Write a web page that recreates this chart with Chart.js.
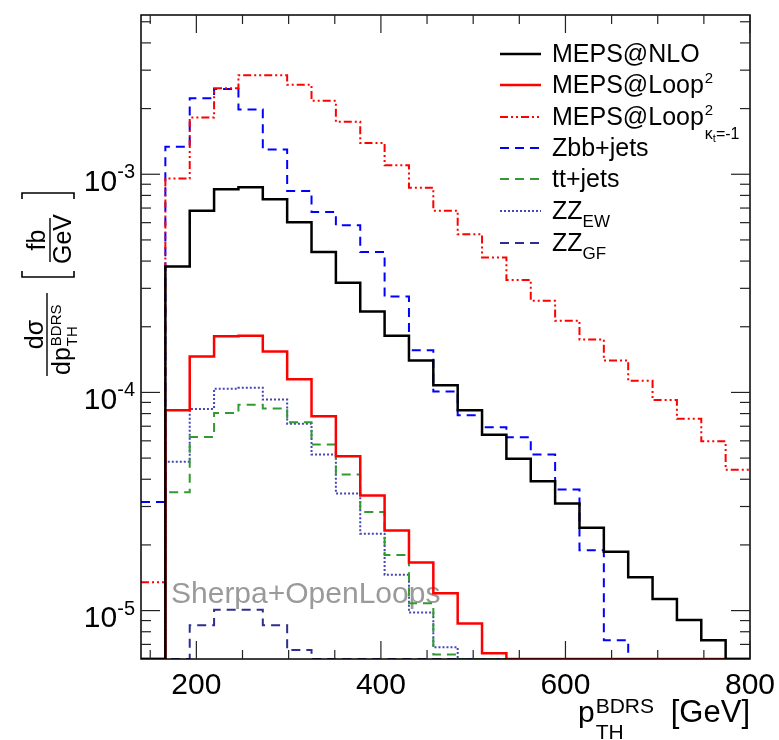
<!DOCTYPE html>
<html>
<head>
<meta charset="utf-8">
<script src="https://cdn.jsdelivr.net/npm/chart.js@4.4.1/dist/chart.umd.min.js"></script>
<style>
    html, body { margin: 0; padding: 0; background: #fff; }
    #wrap { position: relative; width: 779px; height: 740px; }
</style>
</head>
<body>
<div id="wrap"><canvas id="chart"></canvas></div>
<script>
// p_TH^BDRS bin edges [GeV]: 25 bins between 140 and 800
const binEdges = [140, 166.4, 192.8, 219.2, 245.6, 272, 298.4, 324.8, 351.2, 377.6, 404,
    430.4, 456.8, 483.2, 509.6, 536, 562.4, 588.8, 615.2, 641.6, 668, 694.4, 720.8, 747.2, 773.6, 800];

// dsigma/dp [fb/GeV], one value per bin (0 = empty bin)
const mepsNlo = [0, 3.78e-4, 6.81e-4, 8.54e-4, 8.72e-4, 7.68e-4, 6.03e-4, 4.40e-4, 3.18e-4, 2.35e-4,
    1.82e-4, 1.40e-4, 1.08e-4, 8.28e-5, 6.39e-5, 4.97e-5, 3.92e-5, 3.10e-5, 2.40e-5, 1.86e-5,
    1.42e-5, 1.13e-5, 9.06e-6, 7.31e-6, 0];
const mepsLoop2 = [0, 8.28e-5, 1.46e-4, 1.81e-4, 1.82e-4, 1.54e-4, 1.15e-4, 7.78e-5, 5.10e-5, 3.37e-5,
    2.33e-5, 1.66e-5, 1.20e-5, 8.72e-6, 6.38e-6, 0, 0, 0, 0, 0, 0, 0, 0, 0, 0];
const mepsLoop2KtM1 = [1.35e-5, 9.55e-4, 1.82e-3, 2.48e-3, 2.84e-3, 2.84e-3, 2.57e-3, 2.17e-3, 1.74e-3, 1.39e-3,
    1.10e-3, 8.68e-4, 6.81e-4, 5.31e-4, 4.15e-4, 3.28e-4, 2.63e-4, 2.13e-4, 1.75e-4, 1.40e-4,
    1.13e-4, 9.24e-5, 7.57e-5, 5.97e-5, 4.42e-5];
const zbbJets = [3.15e-5, 1.337e-3, 2.23e-3, 2.46e-3, 1.98e-3, 1.30e-3, 8.39e-4, 6.72e-4, 5.84e-4, 4.40e-4,
    2.75e-4, 1.56e-4, 1.01e-4, 7.85e-5, 6.92e-5, 6.23e-5, 5.19e-5, 3.59e-5, 1.89e-5, 7.31e-6,
    0, 0, 0, 0, 0];
const ttJets = [0, 3.49e-5, 6.25e-5, 8.05e-5, 8.79e-5, 8.43e-5, 7.30e-5, 5.77e-5, 4.20e-5, 2.83e-5,
    1.80e-5, 1.08e-5, 6.3e-6, 0, 0, 0, 0, 0, 0, 0, 0, 0, 0, 0, 0];
const zzEW = [0, 4.81e-5, 8.40e-5, 1.04e-4, 1.05e-4, 9.27e-5, 7.19e-5, 5.19e-5, 3.44e-5, 2.25e-5,
    1.46e-5, 9.8e-6, 6.8e-6, 0, 0, 0, 0, 0, 0, 0, 0, 0, 0, 0, 0];
const zzGF = [0, 0, 8.57e-6, 1.01e-5, 1.01e-5, 8.57e-6, 6.6e-6, 0, 0, 0,
    0, 0, 0, 0, 0, 0, 0, 0, 0, 0, 0, 0, 0, 0, 0];

const seriesNames = ['MEPS@NLO', 'MEPS@Loop2', 'MEPS@Loop2 kt=-1', 'Zbb+jets', 'tt+jets', 'ZZ_EW', 'ZZ_GF'];

// axes
const X_MIN = 140, X_MAX = 800;
const Y_MIN = 6.0e-6, Y_MAX = 5.37e-3;
const xTicks = [150, 200, 250, 300, 350, 400, 450, 500, 550, 600, 650, 700, 750, 800];
const xTickLabels = [200, 400, 600, 800];
const yDecades = [1e-5, 1e-4, 1e-3];
const yDecadeExps = ['-5', '-4', '-3'];

const FONT = '"Liberation Sans", Arial, Helvetica, sans-serif';

function histo(vals) {
    // points on every bin edge, held flat until the next edge; empty bins sit on the axis floor
    return binEdges.map((x, i) => {
        const v = vals[Math.min(i, vals.length - 1)];
        return { x, y: v > 0 ? v : Y_MIN };
    });
}

function txt(ctx, s, x, y, size, align = 'left', color = '#000') {
    ctx.font = `${size}px ${FONT}`;
    ctx.textAlign = align;
    ctx.fillStyle = color;
    ctx.fillText(s, x, y);
    return ctx.measureText(s).width;
}

function line(ctx, x0, y0, x1, y1) {
    ctx.beginPath();
    ctx.moveTo(x0, y0);
    ctx.lineTo(x1, y1);
    ctx.stroke();
}

function drawLegend(chart) {
    const ctx = chart.ctx;
    const rows = [54, 85, 117, 148, 179, 211, 243];
    const lx0 = 500, lx1 = 541, tx = 552;
    ctx.save();
    ctx.textBaseline = 'alphabetic';
    chart.data.datasets.forEach((ds, i) => {
        const y = rows[i];
        ctx.strokeStyle = ds.borderColor;
        ctx.lineWidth = ds.legendWidth;
        ctx.setLineDash(ds.borderDash || []);
        line(ctx, lx0, y, lx1, y);
        ctx.setLineDash([]);
        const b = y + 8;
        if (i === 1 || i === 2) {
            const w = txt(ctx, 'MEPS@Loop', tx, b, 25);
            txt(ctx, '2', tx + w + 1, b - 10, 15);
            if (i === 2) {
                let x = tx + w + 1;
                x += txt(ctx, 'κ', x, b + 14, 16);
                x += txt(ctx, 't', x, b + 17, 11);
                txt(ctx, '=-1', x, b + 14, 16);
            }
        } else if (i === 5 || i === 6) {
            const w = txt(ctx, 'ZZ', tx, b, 25);
            txt(ctx, i === 5 ? 'EW' : 'GF', tx + w, b + 8, 17);
        } else {
            txt(ctx, ds.label, tx, b, 25);
        }
    });
    ctx.restore();
}

function drawYTitle(ctx) {
    // rotated text: local (a, b) -> screen (X = b, Y = -a)
    ctx.save();
    ctx.rotate(-Math.PI / 2);
    ctx.textBaseline = 'alphabetic';
    ctx.strokeStyle = '#000';
    ctx.lineWidth = 1.4;
    // d sigma / dp
    line(ctx, -376, 47, -293, 47);
    txt(ctx, 'dσ', -334.5, 43, 25, 'center');
    const w = txt(ctx, 'dp', -375, 70, 25);
    txt(ctx, 'BDRS', -375 + w + 1, 61, 15);
    txt(ctx, 'TH', -375 + w + 1, 77, 15);
    // [ fb / GeV ]
    ctx.lineWidth = 1.6;
    ctx.beginPath();
    ctx.moveTo(-271, 22); ctx.lineTo(-277, 22); ctx.lineTo(-277, 74); ctx.lineTo(-271, 74);
    ctx.stroke();
    ctx.beginPath();
    ctx.moveTo(-199, 22); ctx.lineTo(-193, 22); ctx.lineTo(-193, 74); ctx.lineTo(-199, 74);
    ctx.stroke();
    ctx.lineWidth = 1.4;
    line(ctx, -262, 50, -218, 50);
    txt(ctx, 'fb', -240, 45, 25, 'center');
    txt(ctx, 'GeV', -239, 71, 25, 'center');
    ctx.restore();
}

const rootFrame = {
    id: 'rootFrame',
    beforeDatasetsDraw(chart) {
        const ctx = chart.ctx;
        ctx.save();
        ctx.textBaseline = 'alphabetic';
        txt(ctx, 'Sherpa+OpenLoops', 171, 603, 30, 'left', '#9a9a9a');
        ctx.restore();
    },
    afterDatasetsDraw(chart) {
        const ctx = chart.ctx;
        const { left, right, top, bottom } = chart.chartArea;
        const xs = chart.scales.x, ys = chart.scales.y;
        ctx.save();
        ctx.strokeStyle = '#000';
        ctx.lineWidth = 1.5;
        ctx.strokeRect(left, top, right - left, bottom - top);

        // x ticks, pointing inwards on bottom and top
        ctx.lineWidth = 1.2;
        ctx.strokeStyle = '#222';
        xTicks.forEach(v => {
            const px = xs.getPixelForValue(v);
            const len = xTickLabels.includes(v) ? 18 : 9;
            line(ctx, px, bottom, px, bottom - len);
            line(ctx, px, top, px, top + len);
        });
        // y ticks, both sides
        yDecades.forEach(d => {
            const py = ys.getPixelForValue(d);
            line(ctx, left, py, left + 19, py);
            line(ctx, right, py, right - 19, py);
            for (let m = 2; m <= 9; m++) {
                const v = d * m;
                if (v > Y_MAX) break;
                const pm = ys.getPixelForValue(v);
                line(ctx, left, pm, left + 10, pm);
                line(ctx, right, pm, right - 10, pm);
            }
        });
        [7e-6, 8e-6, 9e-6].forEach(v => {
            const pm = ys.getPixelForValue(v);
            line(ctx, left, pm, left + 10, pm);
            line(ctx, right, pm, right - 10, pm);
        });

        // tick labels
        ctx.textBaseline = 'alphabetic';
        xTickLabels.forEach(v => {
            txt(ctx, String(v), xs.getPixelForValue(v), bottom + 35, 30, 'center');
        });
        yDecades.forEach((d, i) => {
            const py = ys.getPixelForValue(d);
            ctx.font = `20px ${FONT}`;
            const we = ctx.measureText(yDecadeExps[i]).width;
            const xr = left - 6;
            txt(ctx, yDecadeExps[i], xr - we, py + 4, 20);
            txt(ctx, '10', xr - we, py + 16.5, 30, 'right');
        });

        // x title
        let x = 578;
        const wp = txt(ctx, 'p', x, 722, 30);
        txt(ctx, 'BDRS', x + wp + 1, 713, 21);
        txt(ctx, 'TH', x + wp + 1, 739, 21);
        txt(ctx, '[GeV]', 750, 722, 31, 'right');

        drawYTitle(ctx);
        drawLegend(chart);
        ctx.restore();
    }
};

const seriesValues = [mepsNlo, mepsLoop2, mepsLoop2KtM1, zbbJets, ttJets, zzEW, zzGF];
const seriesStyles = [
    { color: '#000000', width: 2.5, dash: [] },
    { color: '#ff0000', width: 2.5, dash: [] },
    { color: '#ff0000', width: 2, dash: [8, 3, 2, 3, 2, 3] },
    { color: '#0000ff', width: 2, dash: [9, 6] },
    { color: '#339933', width: 2, dash: [9, 6] },
    { color: '#4646b4', width: 2, dash: [2, 2] },
    { color: '#2e2e8c', width: 2, dash: [9, 6] },
];

new Chart(document.getElementById('chart'), {
    type: 'line',
    data: {
        datasets: seriesValues.map((vals, i) => ({
            label: seriesNames[i],
            data: histo(vals),
            borderColor: seriesStyles[i].color,
            borderWidth: seriesStyles[i].width,
            borderDash: seriesStyles[i].dash,
            legendWidth: seriesStyles[i].width,
            stepped: 'before',
            pointRadius: 0,
            fill: false,
            tension: 0,
        })),
    },
    options: {
        responsive: true,
        maintainAspectRatio: false,
        animation: false,
        devicePixelRatio: 1,
        layout: { padding: { top: 15, right: 29, left: 0, bottom: 0 } },
        plugins: { legend: { display: false }, tooltip: { enabled: false } },
        scales: {
            x: {
                type: 'linear', min: X_MIN, max: X_MAX, bounds: 'data',
                grid: { display: false }, border: { display: false },
                ticks: { display: false },
                afterFit(s) { s.height = 81; },
            },
            y: {
                type: 'logarithmic', min: Y_MIN, max: Y_MAX, bounds: 'data',
                grid: { display: false }, border: { display: false },
                ticks: { display: false },
                afterFit(s) { s.width = 141; },
            },
        },
    },
    plugins: [rootFrame],
});
</script>
</body>
</html>
